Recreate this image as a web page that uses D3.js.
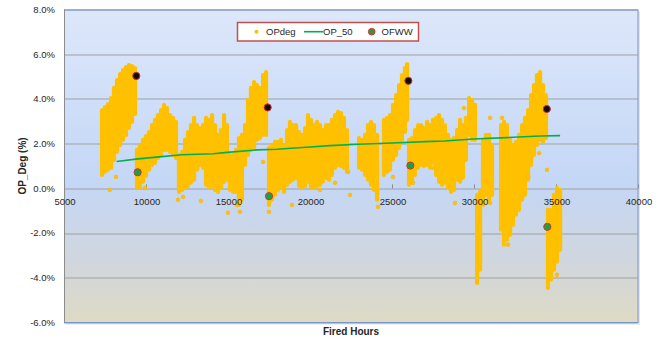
<!DOCTYPE html>
<html>
<head>
<meta charset="utf-8">
<script src="https://cdn.jsdelivr.net/npm/d3@7"></script>
<style>
  body { margin: 0; background: #fff; }
  text { font-family: "Liberation Sans", Arial, sans-serif; fill: #262626; }
</style>
</head>
<body>
<div id="chart"></div>
<script>
// OPdeg scatter, read as vertical bands: hours, low %, high %
var opHours = [7320, 7500, 7680, 7870, 8050, 8230, 8420, 8600, 8780, 8960, 9150, 9330,
  9450, 9630, 9820, 10000, 10180, 10370, 10550, 10730, 10920, 11100, 11280, 11460, 11650, 11830,
  12010, 12200, 12380, 12560, 12740, 12930, 13110, 13290, 13480, 13660, 13840, 14030, 14210, 14390,
  14570, 14760, 14940, 15120, 15310, 15490, 15670, 15850, 16040, 16220, 16400, 16590, 16770, 16950,
  17140, 17320, 17500, 17680, 17870, 18050, 18230, 18420, 18600, 18780, 18960, 19150, 19330, 19510,
  19700, 19880, 20060, 20250, 20430, 20610, 20790, 20980, 21160, 21340, 21530, 21710, 21890, 22070,
  22260, 22990, 23170, 23360, 23540, 23720, 23900, 24090, 24510, 24700, 24880, 25060, 25250, 25430,
  25610, 25790, 25920, 26040, 26220, 26400, 26590, 26770, 26950, 27140, 27320, 27500, 27690, 27870,
  28050, 28230, 28420, 28600, 28780, 28970, 29150, 29330, 29510, 29700, 29880, 30060, 30190, 30370,
  30550, 30730, 30920, 31100, 31650, 31830, 32010, 32200, 32380, 32560, 32750, 32930, 33110, 33300,
  33480, 33660, 33840, 34030, 34210, 34390, 34510, 34700, 34880, 35060, 35250];
var opLow = [0.60, 0.74, 0.83, 0.92, 1.27, 1.63, 1.94, 2.17, 2.39, 2.70, 2.97, 3.33,
  0.07, 0.02, 0.29, 0.56, 0.83, 1.05, 1.14, 1.36, 1.50, 1.72, 1.72, 1.63, 1.50, 1.36,
  -0.16, -0.07, 0.02, 0.11, 0.25, 0.38, 0.83, 1.05, 0.92, 0.16, 0.02, 0.11, -0.07, -0.16,
  0.02, 0.29, 0.38, -0.07, -0.16, -0.16, -0.74, -0.51, 1.05, 1.50, 1.72, 1.81, 2.17, 2.25,
  2.39, 2.39, -0.74, -0.51, -0.29, -0.07, 0.02, -0.16, 0.16, 0.29, 0.38, 0.47, 0.11, 0.02,
  0.11, 0.29, 0.02, 0.02, 0.11, 0.16, 0.29, 0.47, 0.38, 0.60, 0.92, 1.05, 1.00, 0.92,
  0.74, 0.92, 0.83, 0.60, 0.38, 0.16, -0.07, -0.51, 0.60, 0.74, 0.83, 1.27, 1.50, 1.81,
  2.17, 2.52, 3.06, 0.16, 0.25, 0.60, 0.92, 1.05, 1.00, 1.05, 0.92, 1.14, 0.60, 0.29,
  0.16, 0.25, 0.02, -0.16, -0.07, 0.38, 0.29, 0.47, 1.27, 2.39, 2.17, 2.17, -4.17, -3.64,
  -0.74, -0.29, -0.51, -0.29, -1.85, -2.52, -2.30, -2.08, -1.63, -1.18, -0.96, -0.51, -0.29, 0.38,
  1.05, 1.50, 1.94, 2.17, 2.08, 2.25, -4.31, -4.08, -3.64, -3.28, -2.75];
var opHigh = [3.50, 3.64, 3.77, 4.04, 4.49, 4.84, 5.11, 5.29, 5.42, 5.51, 5.47, 5.38,
  1.72, 1.90, 2.17, 2.34, 2.52, 2.83, 3.06, 3.28, 3.50, 3.73, 3.59, 3.28, 3.15, 2.97,
  1.50, 1.63, 2.17, 2.52, 2.83, 3.15, 2.83, 2.70, 2.83, 3.15, 3.06, 3.28, 2.83, 2.39,
  2.61, 3.28, 2.83, 1.50, 1.50, 1.72, 2.25, 2.39, 2.83, 3.95, 4.49, 4.75, 4.62, 4.49,
  5.07, 5.20, 1.81, 1.94, 2.08, 2.08, 2.17, 1.94, 2.61, 2.97, 2.83, 2.83, 2.52, 2.39,
  2.70, 3.28, 3.06, 2.83, 2.97, 2.83, 2.61, 2.83, 2.83, 3.06, 3.28, 3.42, 3.37, 3.15,
  2.61, 2.25, 2.17, 2.39, 2.83, 2.97, 2.83, 2.39, 3.06, 3.15, 3.28, 3.73, 4.17, 4.62,
  5.07, 5.38, 5.56, 2.17, 2.25, 2.61, 2.83, 2.83, 2.70, 2.97, 2.83, 3.06, 3.15, 3.28,
  3.06, 2.83, 2.39, 2.17, 2.25, 2.61, 3.06, 2.83, 3.15, 4.04, 3.95, 3.73, -0.29, -0.16,
  2.17, 2.39, 2.39, 1.94, 2.83, 2.97, 2.83, 2.17, 1.94, 2.08, 2.39, 2.83, 3.15, 3.50,
  4.17, 4.62, 5.07, 5.20, 4.62, 4.17, -0.96, -0.96, -0.29, 0.02, -0.07];

// loose OPdeg points outside the bands
var strayHours = [7800, 8170, 9940, 11950, 12260, 13350, 15000, 15550, 15730, 17140, 17500, 18900,
  20610, 21530, 22320, 22440, 24150, 25060, 26280, 27500, 28840, 29390, 30190, 30980, 30980,
  31710, 32080, 33300, 33970, 34450, 34510, 35060];
var strayValues = [-0.07, 0.51, 0.02, -0.51, -0.38, -0.56, -1.09, -0.74, -1.05, 1.18, -1.05, -0.74,
  -0.07, 0.25, 0.74, -0.29, -0.83, 0.51, 0.25, 0.92, -0.65, 3.59, -4.22, -0.65, 3.15,
  3.15, -2.52, 0.51, 1.58, 0.83, -4.44, -3.86];

// OP_50 trend
var op50Hours = [8210, 9510, 10960, 12180, 14090, 15120, 16750, 17970, 20000, 21220, 22930,
  25000, 27010, 28230, 29940, 32010, 34030, 35250];
var op50Values = [1.20, 1.32, 1.42, 1.50, 1.55, 1.62, 1.72, 1.75, 1.85, 1.91, 1.97,
  2.03, 2.09, 2.12, 2.21, 2.27, 2.34, 2.36];

// OFWW points
var ofwwHighHours = [9410, 17420, 26000, 34440];
var ofwwHighValues = [5.03, 3.62, 4.81, 3.55];
var ofwwLowHours = [9490, 17500, 26120, 34470];
var ofwwLowValues = [0.72, -0.35, 1.02, -1.72];

var xTicks = [5000, 10000, 15000, 20000, 25000, 30000, 35000, 40000];
var yTicks = [-6, -4, -2, 0, 2, 4, 6, 8];

var width = 668, height = 339;
var margin = {top: 9.5, right: 30, bottom: 16.5, left: 64};
var plotW = width - margin.left - margin.right;
var plotH = height - margin.top - margin.bottom;

var svg = d3.select("#chart").append("svg")
    .attr("width", width)
    .attr("height", height);

var defs = svg.append("defs");
var grad = defs.append("linearGradient")
    .attr("id", "bg")
    .attr("x1", 0).attr("y1", 0).attr("x2", 0).attr("y2", 1);
grad.append("stop").attr("offset", "0%").attr("stop-color", "#DDE7FB");
grad.append("stop").attr("offset", "55%").attr("stop-color", "#C4D7F6");
grad.append("stop").attr("offset", "80%").attr("stop-color", "#D0D6DE");
grad.append("stop").attr("offset", "100%").attr("stop-color", "#DEDAC4");

var x = d3.scaleLinear().domain([5000, 40000]).range([0, plotW]);
var y = d3.scaleLinear().domain([-6, 8]).range([plotH, 0]);

var g = svg.append("g")
    .attr("transform", "translate(" + margin.left + "," + margin.top + ")");

// shadow + background
g.append("rect")
    .attr("x", 2).attr("y", 2)
    .attr("width", plotW).attr("height", plotH)
    .attr("fill", "#E4E4E4");
g.append("rect")
    .attr("width", plotW).attr("height", plotH)
    .attr("fill", "url(#bg)");

// horizontal gridlines
g.selectAll(".grid")
    .data(yTicks)
    .enter().append("line")
    .attr("x1", 0).attr("x2", plotW)
    .attr("y1", d => Math.round(y(d)) + 0.5)
    .attr("y2", d => Math.round(y(d)) + 0.5)
    .attr("stroke", "#A0A0A0")
    .attr("stroke-width", 1);

// small ticks on the zero line
g.selectAll(".xtick")
    .data(xTicks)
    .enter().append("line")
    .attr("x1", d => Math.round(x(d)) + 0.5)
    .attr("x2", d => Math.round(x(d)) + 0.5)
    .attr("y1", y(0) - 4).attr("y2", y(0))
    .attr("stroke", "#8C8C8C");

// OPdeg bands
var yellow = "#FFC000";
g.selectAll(".band")
    .data(opHours)
    .enter().append("line")
    .attr("x1", d => x(d)).attr("x2", d => x(d))
    .attr("y1", (d, i) => y(opLow[i]))
    .attr("y2", (d, i) => y(opHigh[i]))
    .attr("stroke", yellow)
    .attr("stroke-width", 4.2)
    .attr("stroke-linecap", "round");

g.selectAll(".stray")
    .data(strayHours)
    .enter().append("circle")
    .attr("cx", d => x(d))
    .attr("cy", (d, i) => y(strayValues[i]))
    .attr("r", 1.9)
    .attr("fill", yellow)
    .attr("stroke", "#F2B400")
    .attr("stroke-width", 0.5);

// OP_50 line
var line = d3.line()
    .x(d => x(d))
    .y((d, i) => y(op50Values[i]));
g.append("path")
    .datum(op50Hours)
    .attr("d", line)
    .attr("fill", "none")
    .attr("stroke", "#00B050")
    .attr("stroke-width", 1.6);

// OFWW
g.selectAll(".ofwwHigh")
    .data(ofwwHighHours)
    .enter().append("circle")
    .attr("cx", d => x(d))
    .attr("cy", (d, i) => y(ofwwHighValues[i]))
    .attr("r", 3.6)
    .attr("fill", "#0D0D0D")
    .attr("stroke", "#E0302A")
    .attr("stroke-width", 1);
g.selectAll(".ofwwLow")
    .data(ofwwLowHours)
    .enter().append("circle")
    .attr("cx", d => x(d))
    .attr("cy", (d, i) => y(ofwwLowValues[i]))
    .attr("r", 3.6)
    .attr("fill", "#17A24A")
    .attr("stroke", "#E0302A")
    .attr("stroke-width", 1);

// plot border
g.append("rect")
    .attr("x", 0.5).attr("y", 0.5)
    .attr("width", plotW - 0.5).attr("height", plotH - 0.5)
    .attr("fill", "none")
    .attr("stroke", "#7896C6")
    .attr("stroke-width", 1);
g.append("line")
    .attr("x1", 0.5).attr("x2", 0.5)
    .attr("y1", 0).attr("y2", plotH)
    .attr("stroke", "#8C8C8C");

// tick labels
g.selectAll(".ylab")
    .data(yTicks)
    .enter().append("text")
    .attr("x", -9)
    .attr("y", d => y(d))
    .attr("dy", "0.35em")
    .attr("text-anchor", "end")
    .style("font-size", "9.5px")
    .text(d => d.toFixed(1) + "%");

g.selectAll(".xlab")
    .data(xTicks)
    .enter().append("text")
    .attr("x", d => x(d) + 1)
    .attr("y", y(0) + 13)
    .attr("dy", "0.35em")
    .attr("text-anchor", "middle")
    .style("font-size", "9.5px")
    .text(d => d);

// axis titles
svg.append("text")
    .attr("transform", "translate(26," + (margin.top + plotH / 2) + ") rotate(-90)")
    .attr("text-anchor", "middle")
    .style("font-size", "10px")
    .style("font-weight", "bold")
    .text("OP_Deg (%)");

svg.append("text")
    .attr("x", margin.left + plotW / 2)
    .attr("y", 335)
    .attr("text-anchor", "middle")
    .style("font-size", "10px")
    .style("font-weight", "bold")
    .text("Fired Hours");

// legend
var leg = svg.append("g");
leg.append("rect")
    .attr("x", 237.5).attr("y", 22.5)
    .attr("width", 181).attr("height", 18.5)
    .attr("fill", "#fff")
    .attr("stroke", "#C0504D")
    .attr("stroke-width", 1.5);
leg.append("circle")
    .attr("cx", 256.5).attr("cy", 31.7).attr("r", 2)
    .attr("fill", yellow);
leg.append("text")
    .attr("x", 266).attr("y", 31.7).attr("dy", "0.35em")
    .style("font-size", "9.5px")
    .text("OPdeg");
leg.append("line")
    .attr("x1", 304).attr("x2", 323)
    .attr("y1", 31.7).attr("y2", 31.7)
    .attr("stroke", "#00B050").attr("stroke-width", 1.6);
leg.append("text")
    .attr("x", 323).attr("y", 31.7).attr("dy", "0.35em")
    .style("font-size", "9.5px")
    .text("OP_50");
leg.append("circle")
    .attr("cx", 371.7).attr("cy", 31.7).attr("r", 3.3)
    .attr("fill", "#17A24A")
    .attr("stroke", "#E0302A");
leg.append("text")
    .attr("x", 381.5).attr("y", 31.7).attr("dy", "0.35em")
    .style("font-size", "9.5px")
    .text("OFWW");
</script>
</body>
</html>
